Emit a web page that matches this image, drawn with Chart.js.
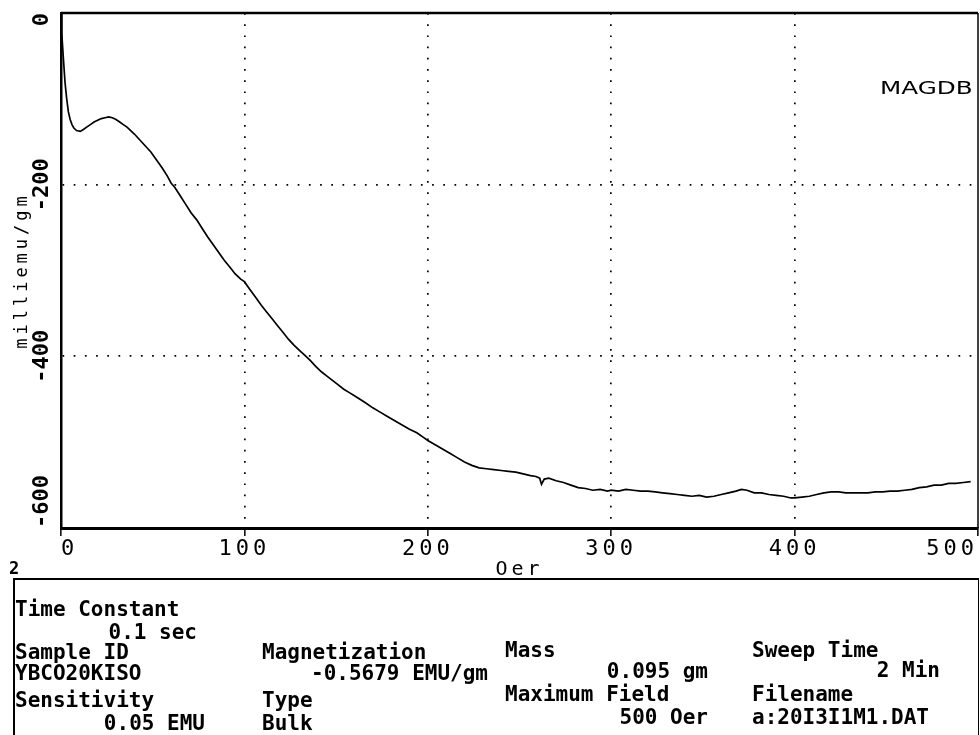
<!DOCTYPE html>
<html>
<head>
<meta charset="utf-8">
<script src="https://cdn.jsdelivr.net/npm/chart.js@4"></script>
<style>
  body { margin: 0; background: #fff; }
  #wrap { position: relative; width: 980px; height: 735px; overflow: hidden; background: #fff; }
  #myChart { position: absolute; left: 0; top: 0; }
  .t { position: absolute; font-family: 'DejaVu Sans Mono', monospace; font-size: 21px; line-height: 21px;
       font-weight: bold; color: #000; white-space: pre; }
  .r { text-align: right; }
  #infoBox { position: absolute; left: 13px; top: 578px; width: 963px; height: 200px;
             border-top: 2px solid #000; border-left: 2px solid #000; border-right: 1px solid #000; }
  #magdb { position: absolute; left: 880px; top: 78px; font-family: 'DejaVu Sans', sans-serif; font-size: 17px;
           transform: scaleX(1.45); transform-origin: left top; }
</style>
</head>
<body>
<div id="wrap">
  <canvas id="myChart" width="980" height="735"></canvas>
  <div id="magdb">MAGDB</div>
  <div class="t" style="left:9px; top:558px; font-size:17px;">2</div>
  <div id="infoBox"></div>

  <div class="t" style="left:15px; top:599px;">Time Constant</div>
  <div class="t r" style="left:0; width:197px; top:622px;">0.1 sec</div>
  <div class="t" style="left:15px; top:642px;">Sample ID</div>
  <div class="t" style="left:15px; top:663px;">YBCO20KISO</div>
  <div class="t" style="left:15px; top:690px;">Sensitivity</div>
  <div class="t r" style="left:0; width:205px; top:713px;">0.05 EMU</div>

  <div class="t" style="left:262px; top:642px;">Magnetization</div>
  <div class="t r" style="left:0; width:488px; top:663px;">-0.5679 EMU/gm</div>
  <div class="t" style="left:262px; top:690px;">Type</div>
  <div class="t" style="left:262px; top:713px;">Bulk</div>

  <div class="t" style="left:505px; top:640px;">Mass</div>
  <div class="t r" style="left:0; width:708px; top:661px;">0.095 gm</div>
  <div class="t" style="left:505px; top:684px;">Maximum Field</div>
  <div class="t r" style="left:0; width:708px; top:707px;">500 Oer</div>

  <div class="t" style="left:752px; top:640px;">Sweep Time</div>
  <div class="t r" style="left:0; width:940px; top:660px;">2 Min</div>
  <div class="t" style="left:752px; top:684px;">Filename</div>
  <div class="t" style="left:752px; top:707px;">a:20I3I1M1.DAT</div>
</div>

<script>
// field (Oer)
var fieldOer = [
    0, 0.4, 1.2, 2.2, 3, 4, 5, 6, 7, 8.5, 10.5, 12, 14, 16, 18, 20, 22, 24, 26, 28,
    30, 32, 34, 36, 38, 40, 43, 46, 49, 52, 55, 58, 60, 62, 65, 68, 71, 74, 77, 80,
    83, 86, 89, 92, 95, 98, 100, 103, 106, 109, 112, 115, 118, 121, 124, 127, 130, 133, 136, 139,
    142, 145, 148, 151, 154, 157, 160, 163, 166, 170, 174, 178, 182, 186, 190, 194, 198, 200, 204, 208,
    212, 216, 220, 224, 228, 232, 236, 240, 244, 248, 252, 256, 259, 261, 262, 263.5, 266, 270, 274, 278,
    282, 286, 290, 294, 298, 300, 304, 308, 312, 316, 320, 324, 328, 332, 336, 340, 344, 348, 352, 356,
    360, 364, 368, 371, 374, 378, 382, 386, 390, 394, 398, 400, 404, 408, 412, 416, 420, 424, 428, 432,
    436, 440, 444, 448, 452, 456, 460, 464, 468, 472, 476, 480, 484, 488, 492, 496
];
// magnetization (milliemu/gm)
var magnetization = [
    0, -23, -50, -81, -98, -115, -124, -130, -134, -137, -138, -136, -133, -130, -127, -125, -123, -122, -121, -122,
    -124, -127, -130, -133, -137, -141, -148, -155, -162, -171, -180, -190, -198, -203, -213, -223, -233, -241, -251, -261,
    -270, -279, -288, -296, -304, -310, -313, -322, -331, -340, -348, -356, -364, -372, -380, -387, -393, -399, -405, -412,
    -418, -423, -428, -433, -438, -442, -446, -450, -454, -460, -465, -470, -475, -480, -485, -489, -495, -498, -503, -508,
    -513, -518, -523, -527, -530, -531, -532, -533, -534, -535, -537, -539, -540, -542, -549, -543, -542, -545, -547, -550,
    -553, -554, -556, -555, -557, -556, -557, -555, -556, -557, -557, -558, -559, -560, -561, -562, -563, -562, -564, -563,
    -561, -559, -557, -555, -556, -559, -559, -561, -562, -563, -565, -565, -564, -563, -561, -559, -558, -558, -559, -559,
    -559, -559, -558, -558, -557, -557, -556, -555, -553, -552, -550, -550, -548, -548, -547, -546
];

var xTickLabels = ['0', '100', '200', '300', '400', '500'];
var yTickLabels = ['-600', '-400', '-200', '0'];

var points = fieldOer.map(function (x, i) { return { x: x, y: magnetization[i] }; });

// wide plotter lettering for the axis texts
var plotterSpacing = {
    id: 'plotterSpacing',
    beforeDraw: function (chart) {
        chart.ctx.letterSpacing = '4px';
    }
};

// rotated y tick labels + frame on top/right
var plotterAxes = {
    id: 'plotterAxes',
    afterDraw: function (chart) {
        var ctx = chart.ctx;
        var area = chart.chartArea;
        var yScale = chart.scales.y;

        ctx.save();
        ctx.strokeStyle = '#000';
        ctx.lineWidth = 2.5;
        ctx.beginPath();
        ctx.moveTo(area.left, area.top);
        ctx.lineTo(area.right, area.top);
        ctx.stroke();
        ctx.lineWidth = 1.5;
        ctx.beginPath();
        ctx.moveTo(area.right, area.top);
        ctx.lineTo(area.right, area.bottom);
        ctx.stroke();
        ctx.restore();

        var last = yScale.ticks.length - 1;
        yScale.ticks.forEach(function (t, i) {
            var py = yScale.getPixelForValue(t.value);
            ctx.save();
            ctx.letterSpacing = '0px';
            ctx.font = 'bold 22px "DejaVu Sans Mono"';
            ctx.fillStyle = '#000';
            ctx.translate(42, py);
            ctx.rotate(-Math.PI / 2);
            ctx.textAlign = i === 0 ? 'left' : (i === last ? 'right' : 'center');
            ctx.textBaseline = 'middle';
            ctx.fillText(yTickLabels[i], 0, 0);
            ctx.restore();
        });
    }
};

function edgeTransparent(ctx) {
    var s = ctx.scale;
    if (ctx.tick && (ctx.tick.value === s.min || ctx.tick.value === s.max)) return 'rgba(0,0,0,0)';
    return '#000';
}

new Chart(document.getElementById('myChart'), {
    type: 'line',
    data: {
        datasets: [{
            label: 'MAGDB',
            data: points,
            borderColor: '#000',
            borderWidth: 1.7,
            pointRadius: 0,
            tension: 0,
            fill: false
        }]
    },
    options: {
        responsive: false,
        animation: false,
        layout: { padding: { top: 13, right: 2, bottom: 147, left: 0 } },
        plugins: {
            legend: { display: false },
            tooltip: { enabled: false }
        },
        scales: {
            x: {
                type: 'linear',
                min: 0,
                max: 500,
                afterFit: function (scale) { scale.height = 60; },
                ticks: {
                    stepSize: 100,
                    align: 'inner',
                    padding: 0,
                    color: '#000',
                    font: { family: 'DejaVu Sans Mono', size: 22 },
                    callback: function (v, i) { return xTickLabels[i]; }
                },
                grid: {
                    color: edgeTransparent,
                    lineWidth: 1.7,
                    drawTicks: true,
                    tickLength: 8,
                    tickColor: '#000',
                    tickWidth: 1.5
                },
                border: { display: true, color: '#000', width: 3, dash: [1.7, 9.5] },
                title: {
                    display: true,
                    text: 'Oer',
                    color: '#000',
                    font: { family: 'DejaVu Sans Mono', size: 20 },
                    padding: { top: 0, bottom: 6 }
                }
            },
            y: {
                type: 'linear',
                min: -600,
                max: 0,
                afterFit: function (scale) { scale.width = 61; },
                ticks: { stepSize: 200, display: false },
                grid: {
                    color: edgeTransparent,
                    lineWidth: 1.7,
                    drawTicks: false
                },
                border: { display: true, color: '#000', width: 2.5, dash: [1.7, 9.5] },
                title: {
                    display: true,
                    text: 'milliemu/gm',
                    color: '#000',
                    font: { family: 'DejaVu Sans Mono', size: 17 },
                    padding: { top: 12, bottom: 0 }
                }
            }
        }
    },
    plugins: [plotterSpacing, plotterAxes]
});
</script>
</body>
</html>
